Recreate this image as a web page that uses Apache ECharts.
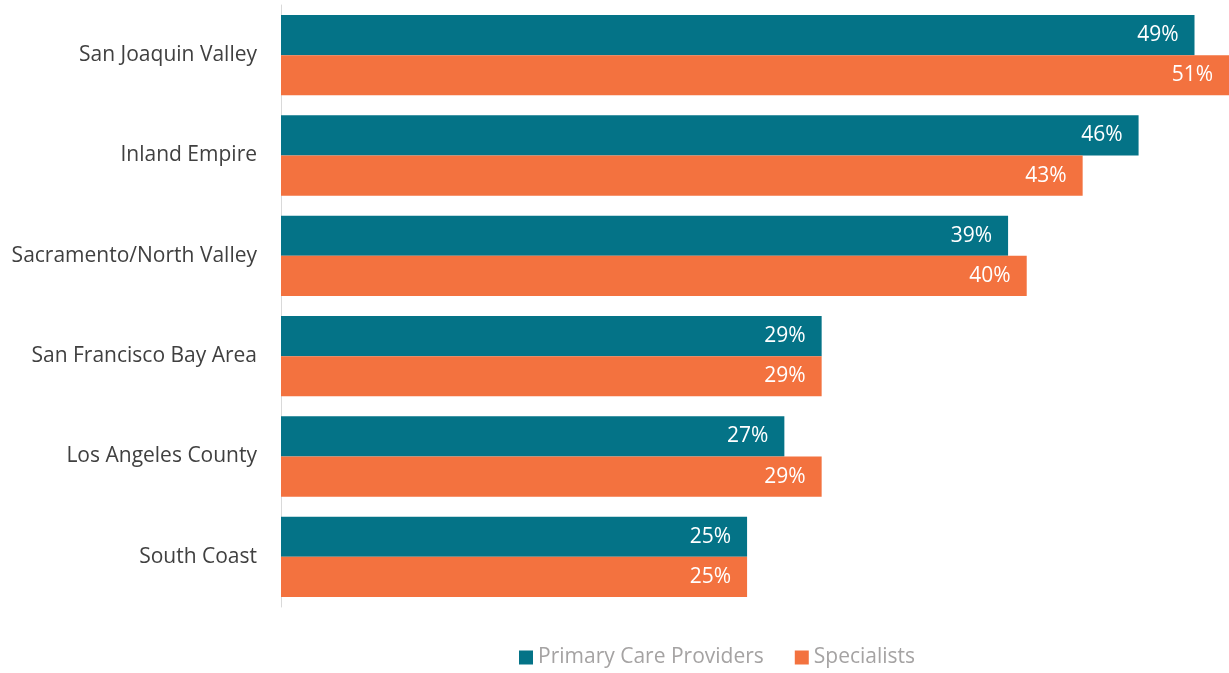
<!DOCTYPE html>
<html>
<head>
<meta charset="utf-8">
<script src="https://cdn.jsdelivr.net/npm/echarts@6/dist/echarts.min.js"></script>
<style>
  html, body { margin: 0; padding: 0; background: #ffffff; }
  #chart { width: 1229px; height: 673px; }
</style>
</head>
<body>
<div id="chart"></div>
<script>
// Regions, listed top to bottom
const regions = [
  'San Joaquin Valley',
  'Inland Empire',
  'Sacramento/North Valley',
  'San Francisco Bay Area',
  'Los Angeles County',
  'South Coast'
];
// Share of respondents (%) per region
const primaryCare = [49, 46, 39, 29, 27, 25];
const specialists = [51, 43, 40, 29, 29, 25];
const seriesNames = ['Primary Care Providers', 'Specialists'];

const FONT = 'Open Sans';
const chart = echarts.init(document.getElementById('chart'), null, { renderer: 'canvas' });

const barLabel = {
  show: true,
  position: 'insideRight',
  distance: 16,
  color: '#ffffff',
  fontFamily: FONT,
  fontSize: 21,
  formatter: p => p.value + '%'
};

chart.setOption({
  animation: false,
  backgroundColor: '#ffffff',
  grid: { left: 281, right: 0, top: 5, bottom: 66, containLabel: false },
  legend: {
    data: seriesNames,
    top: 642,
    left: 514,
    icon: 'rect',
    itemWidth: 14,
    itemHeight: 14,
    itemGap: 31,
    textStyle: { color: '#a5a3a3', fontFamily: FONT, fontSize: 21 }
  },
  xAxis: {
    type: 'value',
    min: 0,
    max: 50.85,
    show: false
  },
  yAxis: {
    type: 'category',
    inverse: true,
    data: regions,
    axisLine: { show: true, lineStyle: { color: '#d9d9d9', width: 1 } },
    axisTick: { show: false },
    axisLabel: { color: '#404040', fontFamily: FONT, fontSize: 21, margin: 24 },
    splitLine: { show: false }
  },
  series: [
    {
      name: seriesNames[0],
      type: 'bar',
      data: primaryCare,
      barGap: '0%',
      barCategoryGap: '20%',
      itemStyle: { color: '#047387' },
      label: barLabel
    },
    {
      name: seriesNames[1],
      type: 'bar',
      data: specialists,
      itemStyle: { color: '#f3723f' },
      label: barLabel
    }
  ]
});
</script>
</body>
</html>
